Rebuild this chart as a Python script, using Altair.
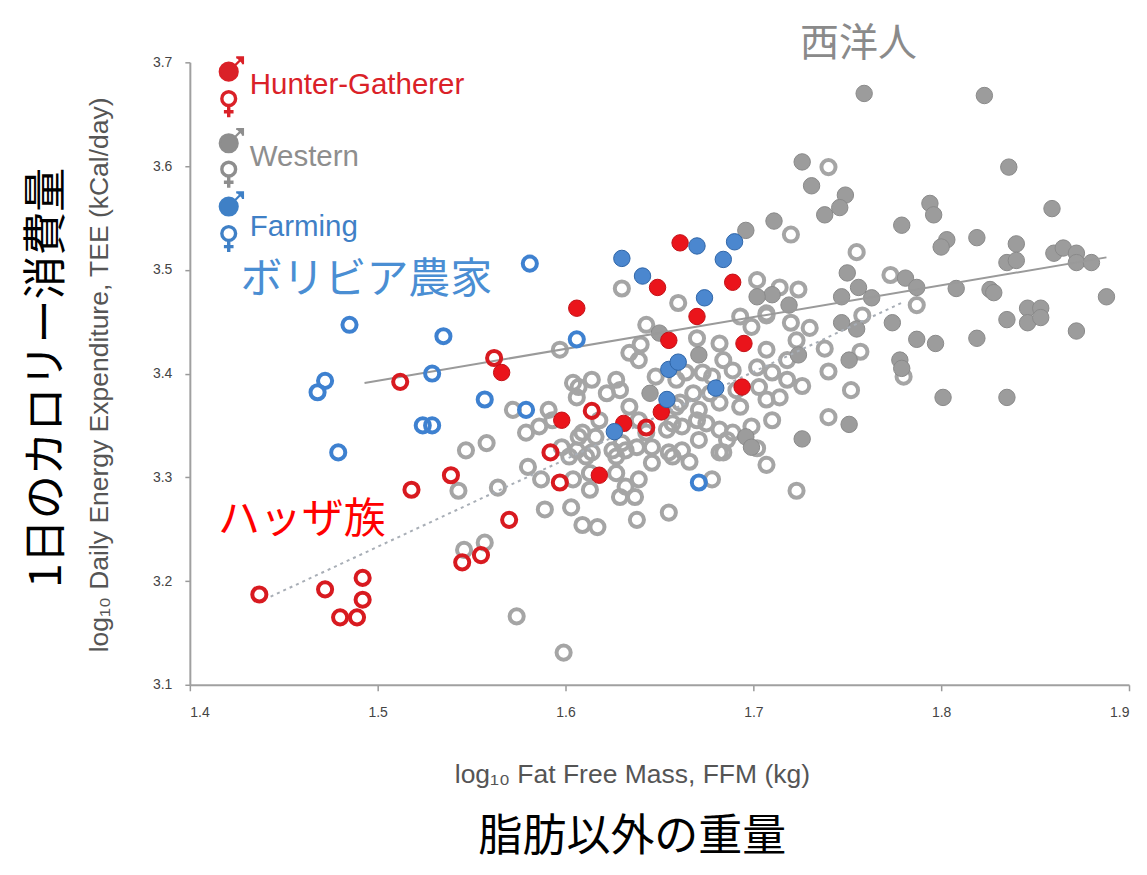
import altair as alt
import pandas as pd

# ---------------- data (log10 FFM, log10 TEE) ----------------
x_ticks = [1.4, 1.5, 1.6, 1.7, 1.8, 1.9]
y_ticks = [3.1, 3.2, 3.3, 3.4, 3.5, 3.6, 3.7]

western_male = [
    (1.759, 3.670), (1.823, 3.668), (1.726, 3.604), (1.731, 3.581), (1.749, 3.572),
    (1.746, 3.560), (1.738, 3.553), (1.711, 3.547), (1.836, 3.599), (1.794, 3.564),
    (1.796, 3.553), (1.859, 3.559), (1.779, 3.543), (1.803, 3.529), (1.800, 3.522),
    (1.819, 3.531), (1.840, 3.525), (1.835, 3.507), (1.840, 3.509), (1.860, 3.516),
    (1.865, 3.521), (1.872, 3.516), (1.872, 3.507), (1.880, 3.507), (1.750, 3.497),
    (1.756, 3.483), (1.781, 3.492), (1.787, 3.483), (1.808, 3.482), (1.826, 3.481),
    (1.828, 3.478), (1.888, 3.474), (1.747, 3.474), (1.763, 3.473), (1.719, 3.466),
    (1.710, 3.476), (1.846, 3.463), (1.853, 3.463), (1.846, 3.449), (1.853, 3.454),
    (1.835, 3.452), (1.872, 3.441), (1.819, 3.434), (1.787, 3.433), (1.797, 3.429),
    (1.774, 3.449), (1.747, 3.449), (1.755, 3.443), (1.751, 3.413), (1.778, 3.413),
    (1.779, 3.405), (1.724, 3.418), (1.801, 3.377), (1.835, 3.377), (1.751, 3.351),
    (1.726, 3.337), (1.696, 3.538), (1.702, 3.474), (1.650, 3.439), (1.671, 3.418),
    (1.645, 3.381), (1.696, 3.339), (1.699, 3.329),
]

western_female = [
    (1.740, 3.599), (1.720, 3.534), (1.755, 3.517), (1.773, 3.495), (1.787, 3.466),
    (1.714, 3.483), (1.724, 3.481), (1.758, 3.456), (1.730, 3.444), (1.720, 3.449),
    (1.738, 3.424), (1.757, 3.421), (1.740, 3.402), (1.726, 3.388), (1.752, 3.384),
    (1.780, 3.397), (1.740, 3.358), (1.707, 3.312), (1.723, 3.287), (1.714, 3.377),
    (1.707, 3.423), (1.707, 3.456), (1.630, 3.482), (1.660, 3.468), (1.702, 3.490),
    (1.643, 3.447), (1.597, 3.423), (1.634, 3.420), (1.640, 3.428), (1.670, 3.434),
    (1.682, 3.429), (1.693, 3.455), (1.699, 3.445), (1.558, 3.333), (1.572, 3.365),
    (1.579, 3.343), (1.591, 3.365), (1.604, 3.391), (1.614, 3.394), (1.627, 3.394),
    (1.622, 3.381), (1.606, 3.377), (1.648, 3.397), (1.664, 3.401), (1.668, 3.381),
    (1.659, 3.394), (1.678, 3.397), (1.689, 3.403), (1.693, 3.368), (1.707, 3.375),
    (1.699, 3.349), (1.710, 3.355), (1.682, 3.346), (1.670, 3.355), (1.662, 3.349),
    (1.659, 3.368), (1.634, 3.368), (1.639, 3.355), (1.618, 3.355), (1.609, 3.343),
    (1.598, 3.329), (1.606, 3.326), (1.614, 3.324), (1.625, 3.326), (1.632, 3.326),
    (1.646, 3.329), (1.655, 3.324), (1.662, 3.326), (1.671, 3.336), (1.682, 3.324),
    (1.564, 3.290), (1.557, 3.237), (1.589, 3.269), (1.603, 3.271), (1.609, 3.254),
    (1.617, 3.252), (1.638, 3.259), (1.655, 3.266), (1.574, 3.166), (1.599, 3.131),
    (1.580, 3.310), (1.587, 3.298), (1.604, 3.298), (1.613, 3.288), (1.629, 3.281),
    (1.632, 3.291), (1.639, 3.298), (1.637, 3.281), (1.602, 3.320), (1.611, 3.320),
    (1.627, 3.320), (1.638, 3.329), (1.657, 3.320), (1.666, 3.315), (1.678, 3.298),
    (1.684, 3.324), (1.686, 3.336), (1.702, 3.328), (1.689, 3.343), (1.654, 3.346),
    (1.643, 3.343), (1.630, 3.333), (1.616, 3.339), (1.607, 3.339), (1.593, 3.355),
    (1.586, 3.349), (1.613, 3.304), (1.627, 3.304), (1.646, 3.314), (1.547, 3.326),
    (1.543, 3.287), (1.546, 3.230), (1.707, 3.458), (1.718, 3.413), (1.723, 3.432),
    (1.684, 3.413), (1.702, 3.406), (1.710, 3.401), (1.673, 3.401), (1.677, 3.381),
    (1.691, 3.384), (1.703, 3.387), (1.718, 3.394), (1.657, 3.352), (1.671, 3.365),
    (1.682, 3.372), (1.675, 3.352), (1.661, 3.372), (1.607, 3.387), (1.629, 3.384),
    (1.639, 3.413),
]

hunter_female = [
    (1.437, 3.187), (1.472, 3.192), (1.480, 3.165), (1.489, 3.165), (1.492, 3.203),
    (1.492, 3.182), (1.518, 3.288), (1.512, 3.392), (1.539, 3.302), (1.545, 3.218),
    (1.555, 3.225), (1.570, 3.259), (1.562, 3.415), (1.592, 3.324), (1.597, 3.295),
    (1.614, 3.364), (1.643, 3.348),
]

hunter_male = [
    (1.566, 3.401), (1.606, 3.463), (1.598, 3.355), (1.618, 3.302), (1.631, 3.352),
    (1.651, 3.363), (1.649, 3.483), (1.655, 3.432), (1.661, 3.526), (1.670, 3.455),
    (1.689, 3.488), (1.695, 3.429), (1.694, 3.387),
]

farming_female = [
    (1.468, 3.382), (1.472, 3.393), (1.479, 3.324), (1.485, 3.447), (1.524, 3.350),
    (1.529, 3.350), (1.529, 3.400), (1.535, 3.436), (1.557, 3.375), (1.581, 3.506),
    (1.579, 3.365), (1.606, 3.433), (1.671, 3.295),
]

farming_male = [
    (1.630, 3.511), (1.641, 3.494), (1.670, 3.523), (1.674, 3.473), (1.684, 3.510),
    (1.690, 3.527), (1.655, 3.404), (1.660, 3.411), (1.654, 3.375), (1.680, 3.386),
    (1.626, 3.344),
]

# fitted lines (end points)
fit_all = [(1.493, 3.391), (1.888, 3.512)]
fit_hunter = [(1.443, 3.185), (1.780, 3.469)]

# legend entries
legend_names = ["Hunter-Gatherer", "Western", "Farming"]
legend_colors = ["#DA2128", "#8E8E8E", "#3F80C6"]
legend_label_y = [3.678, 3.609, 3.541]
legend_male_y = [3.691, 3.622, 3.561]
legend_female_y = [3.665, 3.597, 3.535]
legend_icon_x = 1.4207
legend_label_x = 1.4319

# annotations
cjk_text = ["西洋人", "ボリビア農家", "ハッザ族", "1日のカロリー消費量", "脂肪以外の重量"]
cjk_x = [1.756, 1.494, 1.4596, 1.3245, 1.6356]
cjk_y = [3.718, 3.490, 3.259, 3.396, 2.952]
cjk_size = [39, 42, 42, 44, 44]
cjk_color = ["#8A8A8A", "#4A8ED3", "#FF0000", "#000000", "#000000"]
cjk_angle = [0, 0, 0, 270, 0]

en_text = ["log\u2081\u2080 Fat Free Mass, FFM (kg)",
           "log\u2081\u2080 Daily Energy Expenditure, TEE (kCal/day)"]
en_x = [1.6356, 1.3521]
en_y = [3.0133, 3.3987]
en_angle = [0, 270]

# ---------------- helpers ----------------
def frame(pairs):
    return pd.DataFrame(pairs, columns=["ffm", "tee"])


def circle_path(cx, cy, r):
    k = 0.5523 * r
    return (f"M {cx + r} {cy} "
            f"C {cx + r} {cy + k} {cx + k} {cy + r} {cx} {cy + r} "
            f"C {cx - k} {cy + r} {cx - r} {cy + k} {cx - r} {cy} "
            f"C {cx - r} {cy - k} {cx - k} {cy - r} {cx} {cy - r} "
            f"C {cx + k} {cy - r} {cx + r} {cy - k} {cx + r} {cy} Z")


male_shape = circle_path(0, 0, 0.6) + " M 0.42 -0.42 L 0.95 -0.95 M 0.5 -0.95 L 0.95 -0.95 L 0.95 -0.5"
female_shape = circle_path(0, 0, 0.5) + " M 0 0.5 L 0 1.35 M -0.35 0.95 L 0.35 0.95"

X = alt.X("ffm:Q",
          scale=alt.Scale(domain=[1.4, 1.9], nice=False, zero=False),
          axis=alt.Axis(values=x_ticks, format=".1f", title=None, grid=False,
                        labelFontSize=14, labelColor="#444444", labelFont="Liberation Sans",
                        tickSize=6, tickColor="#9a9a9a", domainColor="#a0a0a0",
                        domainWidth=2, tickWidth=1.5, labelPadding=15))
Y = alt.Y("tee:Q",
          scale=alt.Scale(domain=[3.1, 3.7], nice=False, zero=False),
          axis=alt.Axis(values=y_ticks, format=".1f", title=None, grid=False,
                        labelFontSize=14, labelColor="#444444", labelFont="Liberation Sans",
                        tickSize=5, tickColor="#9a9a9a", domainColor="#a0a0a0",
                        domainWidth=2, tickWidth=1.5, labelPadding=13))


def open_pts(pairs, color):
    return alt.Chart(frame(pairs)).mark_point(
        shape="circle", filled=False, size=200, strokeWidth=4, color=color, opacity=1
    ).encode(x=X, y=Y)


def filled_pts(pairs, fill, stroke):
    return alt.Chart(frame(pairs)).mark_point(
        shape="circle", filled=True, size=270, fill=fill, stroke=stroke,
        strokeWidth=1, opacity=1, fillOpacity=1
    ).encode(x=X, y=Y)


def line(pairs, color, dash):
    kw = dict(color=color, strokeWidth=2)
    if dash:
        kw["strokeDash"] = dash
    return alt.Chart(frame(pairs)).mark_line(**kw).encode(x=X, y=Y)


layers = [
    open_pts(western_female, "#A5A5A5"),
    filled_pts(western_male, "#9C9C9C", "#8A8A8A"),
    line(fit_all, "#9A9A9A", None),
    line(fit_hunter, "#A8AEB6", [3, 4]),
    open_pts(hunter_female, "#D81A20"),
    filled_pts(hunter_male, "#EA141B", "#C21016"),
    open_pts(farming_female, "#3E81D0"),
    filled_pts(farming_male, "#4B87CF", "#2F65A8"),
]

leg = pd.DataFrame({
    "name": legend_names, "col": legend_colors,
    "ly": legend_label_y, "my": legend_male_y, "fy": legend_female_y,
})
leg["ix"] = legend_icon_x
leg["lx"] = legend_label_x

legend_male = alt.Chart(leg).mark_point(
    shape=male_shape, filled=True, size=900, strokeWidth=2.2, opacity=1, fillOpacity=1
).encode(x=alt.X("ix:Q"), y=alt.Y("my:Q"),
         fill=alt.Fill("col:N", scale=None), stroke=alt.Stroke("col:N", scale=None))
legend_female = alt.Chart(leg).mark_point(
    shape=female_shape, filled=False, size=760, strokeWidth=3.4, opacity=1
).encode(x=alt.X("ix:Q"), y=alt.Y("fy:Q"), stroke=alt.Stroke("col:N", scale=None))
legend_text = alt.Chart(leg).mark_text(
    align="left", baseline="middle", fontSize=29.5, font="Liberation Sans"
).encode(x=alt.X("lx:Q"), y=alt.Y("ly:Q"), text="name:N",
         color=alt.Color("col:N", scale=None))

cjk = pd.DataFrame({"t": cjk_text, "ffm": cjk_x, "tee": cjk_y, "s": cjk_size,
                    "c": cjk_color, "a": cjk_angle})
cjk_layer = alt.Chart(cjk).mark_text(
    align="center", baseline="middle", font="Noto Sans CJK JP"
).encode(x=X, y=Y, text="t:N", size=alt.Size("s:Q", scale=None),
         color=alt.Color("c:N", scale=None), angle=alt.Angle("a:Q", scale=None))

en = pd.DataFrame({"t": en_text, "ffm": en_x, "tee": en_y, "a": en_angle})
en_layer = alt.Chart(en).mark_text(
    align="center", baseline="middle", font="Liberation Sans", fontSize=26.5, color="#555555"
).encode(x=X, y=Y, text="t:N", angle=alt.Angle("a:Q", scale=None))

chart = alt.layer(*layers, legend_male, legend_female, legend_text, cjk_layer, en_layer).properties(
    width=940, height=623,
    autosize=alt.AutoSizeParams(type="none"),
    padding={"left": 182, "top": 54, "right": 10, "bottom": 182},
    background="white",
).configure_view(stroke=None)

chart.save("out.html", embed_options={"renderer": "svg", "actions": False})
